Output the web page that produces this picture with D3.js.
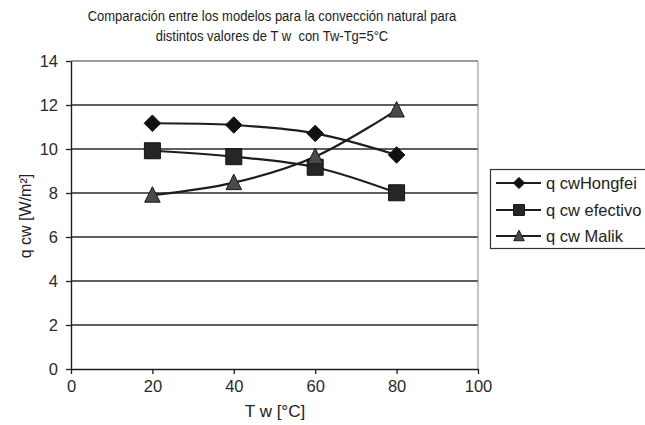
<!DOCTYPE html>
<html>
<head>
<meta charset="utf-8">
<script src="https://cdn.jsdelivr.net/npm/d3@7"></script>
<style>
  html, body { margin: 0; padding: 0; background: #fff; }
  svg { display: block; font-family: "Liberation Sans", Arial, sans-serif; }
</style>
</head>
<body>
<svg id="chart" width="645" height="425"></svg>
<script>
// Tw values (°C) and heat flux of each model (W/m²)
const tw = [20, 40, 60, 80];
const hongfei = [11.17, 11.09, 10.71, 9.73];
const efectivo = [9.92, 9.65, 9.17, 8.01];
const malik = [7.9, 8.47, 9.65, 11.77];
const seriesNames = ["q cwHongfei", "q cw efectivo", "q cw Malik"];
const xTicks = [0, 20, 40, 60, 80, 100];
const yTicks = [0, 2, 4, 6, 8, 10, 12, 14];

const svg = d3.select("#chart");
const plot = { left: 71, right: 478, top: 61, bottom: 369 };
const ink = "#1e1e1e";

const x = d3.scaleLinear().domain([0, 100]).range([plot.left, plot.right]);
const y = d3.scaleLinear().domain([0, 14]).range([plot.bottom, plot.top]);

// marker shapes: size = full width/height in px
const diamond = { draw(ctx, s) { const h = s / 2; ctx.moveTo(0, -h); ctx.lineTo(h, 0); ctx.lineTo(0, h); ctx.lineTo(-h, 0); ctx.closePath(); } };
const square = { draw(ctx, s) { const h = s / 2; ctx.rect(-h, -h, s, s); } };
const triangle = { draw(ctx, s) { const h = s / 2; ctx.moveTo(0, -h * 1.1); ctx.lineTo(h, h * 0.9); ctx.lineTo(-h, h * 0.9); ctx.closePath(); } };
const symbols = [
  { type: diamond, size: 16.5, fill: "#111", stroke: "#111" },
  { type: square, size: 16, fill: "#262626", stroke: "#111" },
  { type: triangle, size: 15.5, fill: "#4a4a4a", stroke: "#1a1a1a" }
];

// horizontal gridlines
svg.append("g").selectAll("line").data(yTicks.filter(d => d > 0)).join("line")
  .attr("x1", plot.left).attr("x2", plot.right)
  .attr("y1", d => y(d)).attr("y2", d => y(d))
  .attr("stroke", d => d === 14 ? "#7a7a7a" : "#2a2a2a").attr("stroke-width", 1.3);

// right border of plot area
svg.append("line")
  .attr("x1", plot.right).attr("x2", plot.right)
  .attr("y1", plot.top).attr("y2", plot.bottom)
  .attr("stroke", "#8a8a8a").attr("stroke-width", 1);

// axes
const xAxis = svg.append("g").attr("transform", `translate(0,${plot.bottom})`)
  .call(d3.axisBottom(x).tickValues(xTicks).tickSize(5).tickSizeOuter(0).tickPadding(6));
const yAxis = svg.append("g").attr("transform", `translate(${plot.left},0)`)
  .call(d3.axisLeft(y).tickValues(yTicks).tickSize(5).tickSizeOuter(0).tickPadding(8));
[xAxis, yAxis].forEach(a => {
  a.select(".domain").attr("stroke", ink).attr("stroke-width", 1.4);
  a.selectAll(".tick line").attr("stroke", ink).attr("stroke-width", 1.3);
  a.selectAll(".tick text").attr("font-size", 16.5).attr("fill", "#2a2a2a")
    .attr("font-family", "'Liberation Sans', Arial, sans-serif");
});
yAxis.selectAll(".tick text").attr("dy", "0.36em");

// series lines (smoothed)
const data = [hongfei, efectivo, malik];
const line = d3.line()
  .x((d, i) => x(tw[i])).y(d => y(d))
  .curve(d3.curveCatmullRom.alpha(0.5));

data.forEach(vals => {
  svg.append("path").datum(vals)
    .attr("d", line).attr("fill", "none")
    .attr("stroke", ink).attr("stroke-width", 2.2);
});

// markers
data.forEach((vals, s) => {
  svg.append("g").selectAll("path").data(vals).join("path")
    .attr("transform", (d, i) => `translate(${x(tw[i])},${y(d)})`)
    .attr("d", d3.symbol().type(symbols[s].type).size(symbols[s].size))
    .attr("fill", symbols[s].fill).attr("stroke", symbols[s].stroke).attr("stroke-width", 1);
});

// title (condensed, as in the original figure)
const titleLines = ["Comparación entre los modelos para la convección natural para",
                    "distintos valores de T w  con Tw-Tg=5°C"];
const title = svg.append("g").attr("transform", "translate(272,0) scale(0.84,1)");
titleLines.forEach((t, i) => {
  title.append("text").attr("x", 0).attr("y", 21 + i * 20)
    .attr("text-anchor", "middle").attr("font-size", 15.5).attr("fill", "#222")
    .attr("xml:space", "preserve").style("white-space", "pre").text(t);
});

// axis titles
svg.append("text").attr("x", 275).attr("y", 417).attr("text-anchor", "middle")
  .attr("font-size", 17).attr("fill", "#222").text("T w [°C]");
svg.append("text")
  .attr("transform", "translate(31,216) rotate(-90)")
  .attr("text-anchor", "middle").attr("font-size", 16).attr("fill", "#222")
  .text("q cw [W/m²]");

// legend
const lg = svg.append("g");
lg.append("rect").attr("x", 490.5).attr("y", 169.5).attr("width", 160).attr("height", 79)
  .attr("fill", "#fff").attr("stroke", "#333").attr("stroke-width", 1.2);
const legendY = [183, 210, 236];
seriesNames.forEach((name, s) => {
  const g = lg.append("g").attr("transform", `translate(0,${legendY[s]})`);
  g.append("line").attr("x1", 496).attr("x2", 541).attr("y1", 0).attr("y2", 0)
    .attr("stroke", ink).attr("stroke-width", 2.2);
  g.append("path").attr("transform", "translate(519,0)")
    .attr("d", d3.symbol().type(symbols[s].type).size(symbols[s].size * 0.68))
    .attr("fill", symbols[s].fill).attr("stroke", symbols[s].stroke);
  g.append("text").attr("x", 546).attr("y", 6).attr("font-size", 16.5).attr("fill", "#222")
    .text(name);
});
</script>
</body>
</html>
